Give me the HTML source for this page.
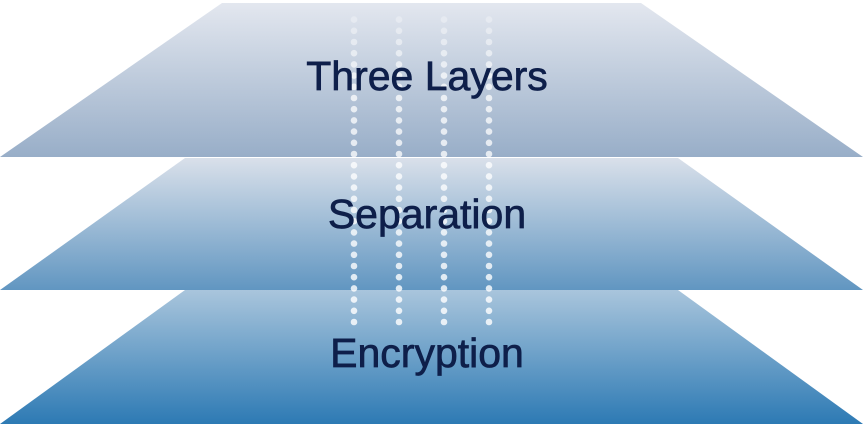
<!DOCTYPE html>
<html><head><style>
html,body{margin:0;padding:0;background:#fff;}
svg{display:block;}
text{font-family:"Liberation Sans",sans-serif;font-size:41px;fill:#0e1f4a;stroke:#0e1f4a;stroke-width:0.7px;text-anchor:middle;}
</style></head><body>
<svg width="863" height="424" viewBox="0 0 863 424" xmlns="http://www.w3.org/2000/svg">
<defs>
<linearGradient id="g1" x1="0" y1="0" x2="0" y2="1"><stop offset="0" stop-color="#e3e7ef"/><stop offset="1" stop-color="#98aec8"/></linearGradient>
<linearGradient id="g2" x1="0" y1="0" x2="0" y2="1"><stop offset="0" stop-color="#d9e0ea"/><stop offset="1" stop-color="#6196c1"/></linearGradient>
<linearGradient id="g3" x1="0" y1="0" x2="0" y2="1"><stop offset="0" stop-color="#a9c5dc"/><stop offset="1" stop-color="#2d7ab4"/></linearGradient>
<linearGradient id="fade" x1="0" y1="0" x2="0" y2="1"><stop offset="0" stop-color="#fff" stop-opacity="0.3"/><stop offset="0.2" stop-color="#fff" stop-opacity="0.8"/><stop offset="1" stop-color="#fff" stop-opacity="0.9"/></linearGradient>
<mask id="m"><rect x="0" y="14" width="863" height="314" fill="url(#fade)"/></mask>
</defs>
<polygon points="185,290 678,290 863,424 0,424" fill="url(#g3)"/>
<polygon points="185,158 678,158 863,290 0,290" fill="url(#g2)"/>
<polygon points="222,3 641,3 863,157 0,157" fill="url(#g1)"/>
<g mask="url(#m)" stroke="#fff" stroke-width="6.6" stroke-linecap="round" stroke-dasharray="0 11.2" fill="none" opacity="0.9">
<line x1="354" y1="19.6" x2="354" y2="323"/>
<line x1="399" y1="19.6" x2="399" y2="323"/>
<line x1="444" y1="19.6" x2="444" y2="323"/>
<line x1="489" y1="19.6" x2="489" y2="323"/>
</g>
<text x="427" y="90">Three Layers</text>
<text x="427" y="228">Separation</text>
<text x="427" y="367">Encryption</text>
</svg>
</body></html>
